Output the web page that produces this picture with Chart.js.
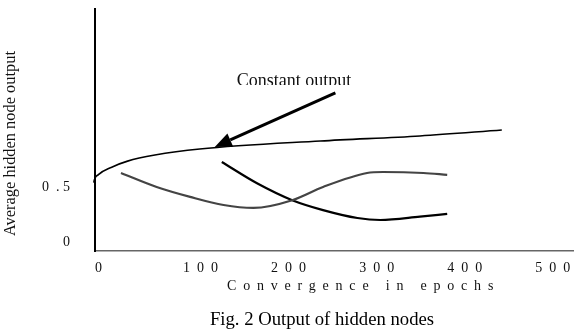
<!DOCTYPE html>
<html>
<head>
<meta charset="utf-8">
<script src="https://cdn.jsdelivr.net/npm/chart.js@4/dist/chart.umd.min.js"></script>
<style>
  html, body { margin: 0; padding: 0; background: #fff; }
  #wrap { width: 574px; height: 332px; }
</style>
</head>
<body>
<div id="wrap"><canvas id="chart" width="574" height="332"></canvas></div>
<script>
// ticks
const xTicks = [0, 100, 200, 300, 400, 500];
const yTicks = [0, 0.5];

// "Constant output" curve (starts just left of the axis in the scan)
const constX = [-2.4, -2.2, -1.4, 3.5, 19, 37, 68, 119, 256, 369, 462];
const constY = [0.31, 0.45, 0.54, 0.61, 0.68, 0.735, 0.79, 0.845, 0.918, 0.964, 1.018];

// grey curve
const grayX = [29.5, 70, 108, 146, 180, 224, 259, 309, 327, 373, 400];
const grayY = [0.627, 0.50, 0.41, 0.336, 0.31, 0.38, 0.50, 0.627, 0.636, 0.627, 0.61];

// black curve
const blackX = [144, 184, 224, 259, 298, 324, 369, 400];
const blackY = [0.727, 0.534, 0.38, 0.29, 0.218, 0.20, 0.23, 0.255];

// arrow of the annotation (data units)
const arrowFrom = [273, 1.355];
const arrowTo = [136, 0.864];

const pts = (xs, ys) => xs.map((x, i) => ({ x: x, y: ys[i] }));
const serif = '"Liberation Serif", "Times New Roman", serif';

// texts, arrow
const extras = {
    id: 'extras',
    afterDraw(chart) {
        const ctx = chart.ctx;
        const xs = chart.scales.x, ys = chart.scales.y;
        ctx.save();

        // arrow
        const x1 = xs.getPixelForValue(arrowFrom[0]), y1 = ys.getPixelForValue(arrowFrom[1]);
        const x2 = xs.getPixelForValue(arrowTo[0]), y2 = ys.getPixelForValue(arrowTo[1]);
        const ang = Math.atan2(y2 - y1, x2 - x1);
        const len = 17, half = 7;
        const bx = x2 - len * Math.cos(ang), by = y2 - len * Math.sin(ang);
        ctx.strokeStyle = '#000';
        ctx.lineWidth = 3;
        ctx.beginPath();
        ctx.moveTo(x1, y1);
        ctx.lineTo(bx, by);
        ctx.stroke();
        ctx.fillStyle = '#000';
        ctx.beginPath();
        ctx.moveTo(x2, y2);
        ctx.lineTo(bx + half * Math.sin(ang), by - half * Math.cos(ang));
        ctx.lineTo(bx - half * Math.sin(ang), by + half * Math.cos(ang));
        ctx.closePath();
        ctx.fill();

        // annotation label, cut off at the bottom like the scan
        ctx.save();
        ctx.beginPath();
        ctx.rect(0, 0, 574, 85);
        ctx.clip();
        ctx.font = '18px ' + serif;
        ctx.textAlign = 'center';
        ctx.textBaseline = 'alphabetic';
        ctx.fillStyle = '#111';
        ctx.fillText('Constant output', 294, 86);
        ctx.restore();

        // x title (spaced letters)
        ctx.font = '14px ' + serif;
        ctx.fillStyle = '#111';
        ctx.textAlign = 'left';
        ctx.textBaseline = 'alphabetic';
        ctx.letterSpacing = '6.8px';
        ctx.fillText('Convergence in epochs', 227, 290);
        ctx.letterSpacing = '0px';

        // y title
        ctx.save();
        ctx.translate(15, 236);
        ctx.rotate(-Math.PI / 2);
        ctx.font = '16.4px ' + serif;
        ctx.textAlign = 'left';
        ctx.fillText('Average hidden node output', 0, 0);
        ctx.restore();

        // caption
        ctx.font = '18.7px ' + serif;
        ctx.textAlign = 'center';
        ctx.fillStyle = '#000';
        ctx.fillText('Fig. 2 Output of hidden nodes', 322, 325);

        ctx.restore();
    }
};

new Chart(document.getElementById('chart'), {
    type: 'line',
    data: {
        datasets: [
            { data: pts(constX, constY), borderColor: '#000', borderWidth: 1.6, clip: false },
            { data: pts(grayX, grayY), borderColor: '#444', borderWidth: 2.2 },
            { data: pts(blackX, blackY), borderColor: '#000', borderWidth: 2.2 }
        ]
    },
    options: {
        responsive: false,
        animation: false,
        layout: { padding: { top: 9, right: 0, bottom: 0, left: 0 } },
        elements: {
            point: { radius: 0 },
            line: { cubicInterpolationMode: 'monotone', fill: false }
        },
        plugins: { legend: { display: false }, tooltip: { enabled: false } },
        scales: {
            x: {
                type: 'linear',
                min: 0,
                max: 544,
                afterBuildTicks: s => { s.ticks = xTicks.map(v => ({ value: v })); },
                afterFit: s => { s.height = 81; s.paddingLeft = 0; s.paddingRight = 0; },
                grid: { display: false, drawTicks: false },
                border: { display: true, color: '#666', width: 1.5 },
                ticks: {
                    align: 'start',
                    padding: 9,
                    maxRotation: 0,
                    autoSkip: false,
                    color: '#111',
                    font: { family: serif, size: 14 },
                    callback: v => String(v).split('').join('  ')
                }
            },
            y: {
                min: -0.082,
                max: 2.118,
                afterBuildTicks: s => { s.ticks = yTicks.map(v => ({ value: v })); },
                afterFit: s => { s.width = 95; s.paddingTop = 0; s.paddingBottom = 0; },
                grid: { display: false, drawTicks: false },
                border: { display: true, color: '#000', width: 2 },
                ticks: {
                    padding: 25,
                    color: '#111',
                    font: { family: serif, size: 14 },
                    callback: v => (v === 0 ? '0' : '0  . 5')
                }
            }
        }
    },
    plugins: [extras]
});
</script>
</body>
</html>
